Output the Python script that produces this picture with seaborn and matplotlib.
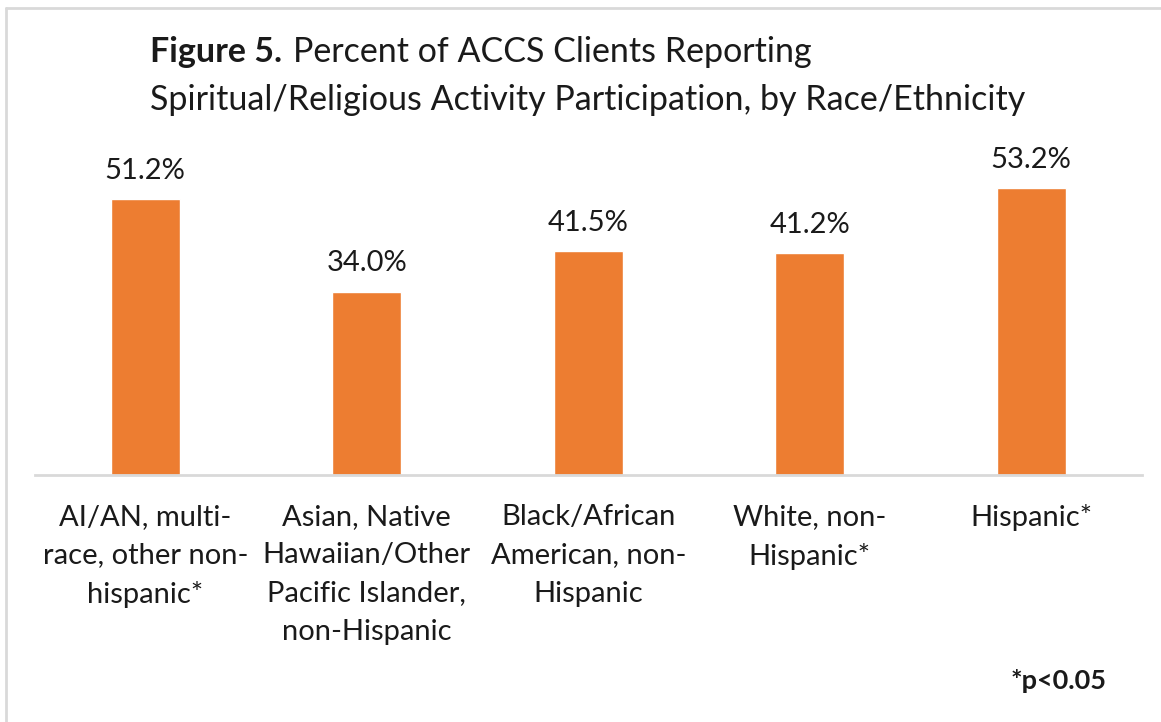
import matplotlib
matplotlib.use("Agg")
import matplotlib.pyplot as plt
import seaborn as sns
import pandas as pd
from matplotlib.lines import Line2D

categories = [
    "AI/AN, multi-\nrace, other non-\nhispanic*",
    "Asian, Native\nHawaiian/Other\nPacific Islander,\nnon-Hispanic",
    "Black/African\nAmerican, non-\nHispanic",
    "White, non-\nHispanic*",
    "Hispanic*",
]
values = [51.2, 34.0, 41.5, 41.2, 53.2]
value_labels = ["51.2%", "34.0%", "41.5%", "41.2%", "53.2%"]

sns.set_theme(style="white")
plt.rcParams["font.family"] = ["Lato", "DejaVu Sans"]

TXT = "#1a1a1a"
ORANGE = "#ED7D31"

W, H = 1161, 722
fig = plt.figure(figsize=(W / 100, H / 100), dpi=100)
ax = fig.add_axes([34.5 / W, (H - 475) / H, (1142 - 34.5) / W, (475 - 151.6) / H])

df = pd.DataFrame({"cat": categories, "val": values})
sns.barplot(data=df, x="cat", y="val", color=ORANGE, width=0.31, ax=ax,
            saturation=1, errorbar=None)

ax.set_xlim(-0.5, 4.5)
ax.set_ylim(0, 60)
ax.set_xlabel("")
ax.set_ylabel("")
ax.set_yticks([])
for s in ["top", "right", "left"]:
    ax.spines[s].set_visible(False)
ax.spines["bottom"].set_color("#D9D9D9")
ax.spines["bottom"].set_linewidth(2)

ax.tick_params(axis="x", length=0, pad=21)
ax.set_xticks(range(len(categories)))
ax.set_xticklabels(categories, fontsize=21, color=TXT, linespacing=1.58)

ax.bar_label(ax.containers[0], labels=value_labels, padding=11, fontsize=21, color=TXT)

# title
TS = 24.5
t1 = fig.text(150 / W, (H - 62) / H, "Figure 5.", fontsize=TS, fontweight="bold", color=TXT,
              va="baseline", ha="left")
fig.canvas.draw()
bb = t1.get_window_extent()
fig.text((bb.x1 + 11) / W, (H - 62) / H, "Percent of ACCS Clients Reporting", fontsize=TS,
         color=TXT, va="baseline", ha="left")
fig.text(150 / W, (H - 110) / H, "Spiritual/Religious Activity Participation, by Race/Ethnicity",
         fontsize=TS, color=TXT, va="baseline", ha="left")

fig.text(1107 / W, (H - 681) / H, "*p<0.05", fontsize=19.5, fontweight="bold", color=TXT,
         ha="right", va="center")

# border (top and left visible)
fig.add_artist(Line2D([6 / W, 1], [(H - 7.5) / H, (H - 7.5) / H], color="#D9D9D9", lw=2,
                      transform=fig.transFigure))
fig.add_artist(Line2D([6 / W, 6 / W], [0, (H - 7.5) / H], color="#D9D9D9", lw=2,
                      transform=fig.transFigure))

fig.savefig("out.png", dpi=100)
